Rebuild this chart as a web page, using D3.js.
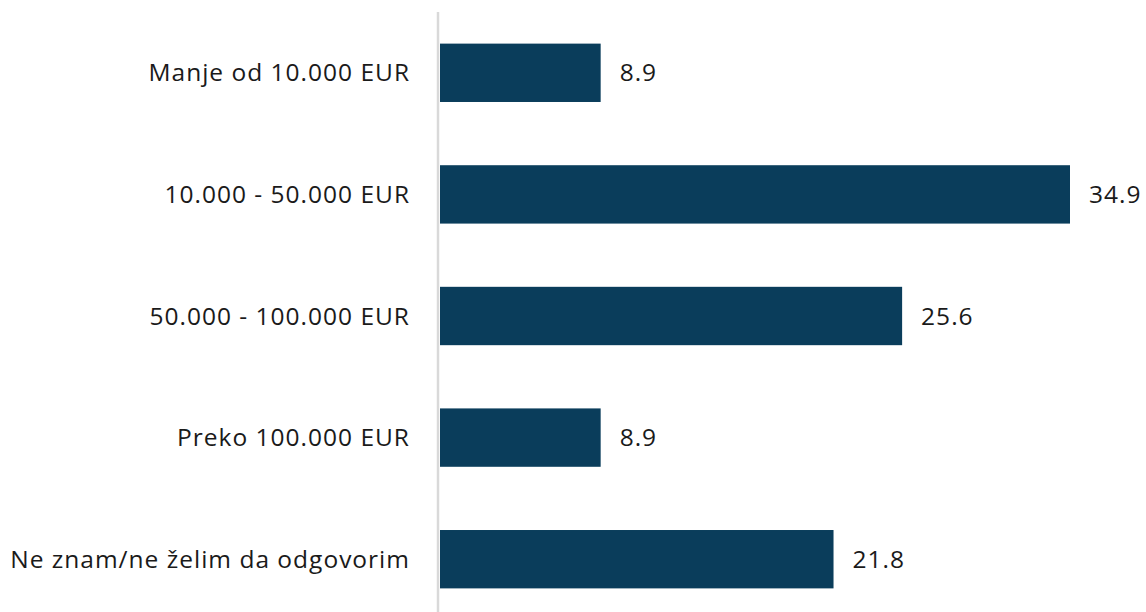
<!DOCTYPE html>
<html>
<head>
<meta charset="utf-8">
<script src="https://cdn.jsdelivr.net/npm/d3@7"></script>
<style>
  body { margin: 0; background: #fff; }
  text { font-family: "Open Sans", sans-serif; fill: #1a1a1a; letter-spacing: 1px; }
</style>
</head>
<body>
<div id="chart"></div>
<script>
// categories and values
var categories = ['Manje od 10.000 EUR', '10.000 - 50.000 EUR', '50.000 - 100.000 EUR', 'Preko 100.000 EUR', 'Ne znam/ne želim da odgovorim']
var values = [8.9, 34.9, 25.6, 8.9, 21.8]
var valueLabels = ['8.9', '34.9', '25.6', '8.9', '21.8']

var width = 1146, height = 612
var x0 = 440

var svg = d3.select('#chart')
    .append('svg')
    .attr('width', width)
    .attr('height', height)

var x = d3.scaleLinear()
    .domain([0, 34.9])
    .range([x0, 1070])

var y = d3.scaleBand()
    .domain(categories)
    .range([12, 620])
    .paddingInner(0.52)
    .paddingOuter(0.26)

var data = categories.map(function (c, i) { return { cat: c, val: values[i], lab: valueLabels[i] } })

// bars
svg.selectAll('rect.bar')
    .data(data)
    .enter()
    .append('rect')
    .attr('class', 'bar')
    .attr('x', x(0))
    .attr('y', function (d) { return y(d.cat) })
    .attr('width', function (d) { return x(d.val) - x(0) })
    .attr('height', y.bandwidth())
    .style('fill', '#0a3d5b')

// vertical axis line
svg.append('line')
    .attr('x1', 438).attr('x2', 438)
    .attr('y1', 12).attr('y2', height)
    .attr('stroke', '#d9d9d9')
    .attr('stroke-width', 2.5)

// category labels
svg.selectAll('text.cat')
    .data(data)
    .enter()
    .append('text')
    .attr('class', 'cat')
    .attr('x', 410)
    .attr('y', function (d) { return y(d.cat) + y.bandwidth() / 2 })
    .attr('dy', '0.35em')
    .attr('text-anchor', 'end')
    .style('font-size', '24.5px')
    .text(function (d) { return d.cat })

// value labels
svg.selectAll('text.val')
    .data(data)
    .enter()
    .append('text')
    .attr('class', 'val')
    .attr('x', function (d) { return x(d.val) + 19 })
    .attr('y', function (d) { return y(d.cat) + y.bandwidth() / 2 })
    .attr('dy', '0.35em')
    .style('font-size', '24.5px')
    .text(function (d) { return d.lab })
</script>
</body>
</html>
